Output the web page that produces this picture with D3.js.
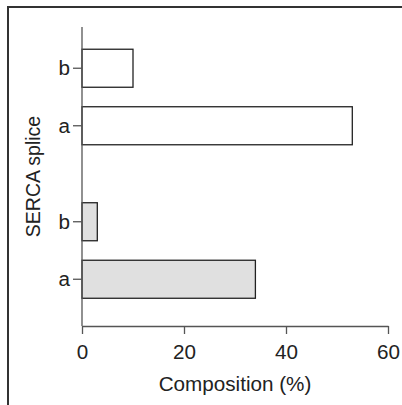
<!DOCTYPE html>
<html>
<head>
<meta charset="utf-8">
<script src="https://cdn.jsdelivr.net/npm/d3@7"></script>
<style>
  html, body { margin: 0; padding: 0; background: #fff; }
  svg { display: block; font-family: "Liberation Sans", Arial, sans-serif; }
</style>
</head>
<body>
<svg id="chart" width="402" height="405"></svg>
<script>
// data
const groups = ['upper', 'lower']
const splices = ['b', 'a']
const upperValues = [10, 53]
const lowerValues = [3, 34]
const groupFills = ['#ffffff', '#e0e0e0']
const xTicks = [0, 20, 40, 60]

const fontSize = 19.5
const stretch = 1.06 // the source type is a bit wider than Liberation Sans

const svg = d3.select('#chart')

// frame around the panel
svg.append('path')
  .attr('d', 'M8,405V7H402')
  .attr('fill', 'none')
  .attr('stroke', '#333')
  .attr('stroke-width', 2)

const plot = {left: 82, right: 388, top: 27, bottom: 326}

const x = d3.scaleLinear().domain([0, 60]).range([plot.left, plot.right])

// outer band per group, inner band per splice
const yGroup = d3.scaleBand().domain(groups).range([20.25, 327.25]).padding(0)
const ySplice = d3.scaleBand().domain(splices).range([0, yGroup.bandwidth()])
  .paddingInner(0.339).paddingOuter(0.504)

const rows = []
groups.forEach((g, gi) => {
  const vals = gi === 0 ? upperValues : lowerValues
  splices.forEach((s, si) => rows.push({group: g, splice: s, value: vals[si], fill: groupFills[gi]}))
})

svg.append('g').selectAll('rect')
  .data(rows)
  .join('rect')
  .attr('x', x(0))
  .attr('y', d => yGroup(d.group) + ySplice(d.splice))
  .attr('width', d => x(d.value) - x(0))
  .attr('height', ySplice.bandwidth())
  .attr('fill', d => d.fill)
  .attr('stroke', '#222')
  .attr('stroke-width', 1.3)

// widen text horizontally around its anchor point
function widen(sel) {
  sel.each(function() {
    const t = d3.select(this)
    const tx = +t.attr('x') || 0
    t.attr('x', 0).attr('transform', `translate(${tx},0) scale(${stretch},1)`)
  })
}

// y axis line
svg.append('line')
  .attr('x1', plot.left).attr('x2', plot.left)
  .attr('y1', plot.top).attr('y2', plot.bottom)
  .attr('stroke', '#555').attr('stroke-width', 1.3)

groups.forEach(g => {
  const ax = svg.append('g')
    .attr('transform', `translate(${plot.left},${yGroup(g)})`)
    .call(d3.axisLeft(ySplice).tickSize(9).tickSizeOuter(0).tickPadding(3))
  ax.select('.domain').remove()
  ax.selectAll('line').attr('stroke', '#555').attr('stroke-width', 1.3)
  ax.selectAll('text').attr('font-size', fontSize).attr('fill', '#222').attr('font-family', null)
    .attr('dy', '0.35em').call(widen)
})

// x axis
const xAxis = svg.append('g')
  .attr('transform', `translate(0,${plot.bottom})`)
  .call(d3.axisBottom(x).tickValues(xTicks).tickSize(8).tickSizeOuter(0).tickPadding(11))
xAxis.select('.domain').attr('stroke', '#555').attr('stroke-width', 1.3)
xAxis.selectAll('line').attr('stroke', '#555').attr('stroke-width', 1.3)
xAxis.selectAll('text').attr('font-size', fontSize).attr('fill', '#222').attr('font-family', null)
  .call(widen)

svg.append('text')
  .attr('transform', `translate(${(plot.left + plot.right) / 2},391) scale(${stretch},1)`)
  .attr('text-anchor', 'middle')
  .attr('font-size', fontSize)
  .attr('fill', '#222')
  .text('Composition (%)')

svg.append('text')
  .attr('transform', `translate(40,${(plot.top + plot.bottom) / 2}) scale(${stretch},1) rotate(-90)`)
  .attr('text-anchor', 'middle')
  .attr('font-size', fontSize)
  .attr('fill', '#222')
  .text('SERCA splice')
</script>
</body>
</html>
